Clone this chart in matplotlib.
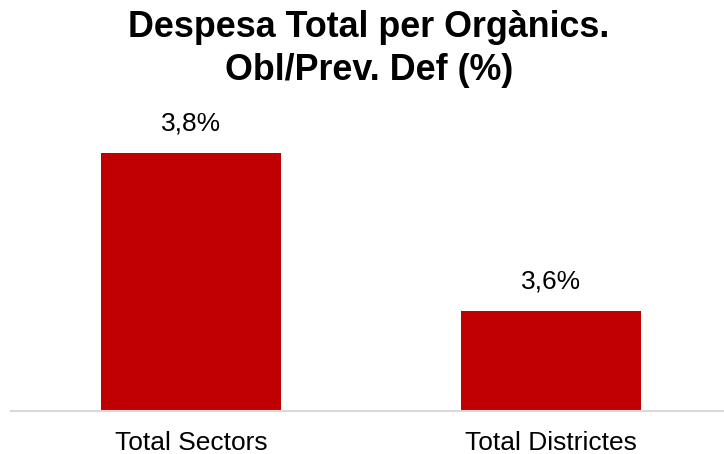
import matplotlib
matplotlib.use("Agg")
import matplotlib.pyplot as plt

categories = ["Total Sectors", "Total Districtes"]
values = [3.8, 3.6]
labels = ["3,8%", "3,6%"]
title_lines = ["Despesa Total per Orgànics.", "Obl/Prev. Def (%)"]

plt.rcParams['font.family'] = ['Liberation Sans', 'DejaVu Sans']

W, H = 724, 454
fig = plt.figure(figsize=(W / 100, H / 100), dpi=100)
ax = fig.add_axes([11 / W, (H - 411) / H, 714 / W, 311 / H])

x = range(len(categories))
ax.bar(x, values, width=0.5, color='#c00000')
ax.set_xlim(-0.5, -0.5 + 714 / 360)
upp = 0.2 / 158
ax.set_ylim(3.8 - 258 * upp, 3.8 + 53 * upp)

for xi, v, lab in zip(x, values, labels):
    ax.annotate(lab, (xi, v), xytext=(0, 16.5), textcoords='offset points',
                ha='center', va='baseline', fontsize=19)

ax.set_xticks(list(x))
ax.set_xticklabels(categories, fontsize=19)
ax.tick_params(axis='x', length=0, pad=14.5)
ax.set_yticks([])
for s in ['top', 'right', 'left']:
    ax.spines[s].set_visible(False)
ax.spines['bottom'].set_color('#d9d9d9')
ax.spines['bottom'].set_linewidth(1.5)

fig.text(369 / W, 1 - 37 / H, title_lines[0], ha='center', va='baseline',
         fontsize=25.8, fontweight='bold')
fig.text(369 / W, 1 - 80 / H, title_lines[1], ha='center', va='baseline',
         fontsize=25.8, fontweight='bold')

fig.savefig('out.png', dpi=100)
